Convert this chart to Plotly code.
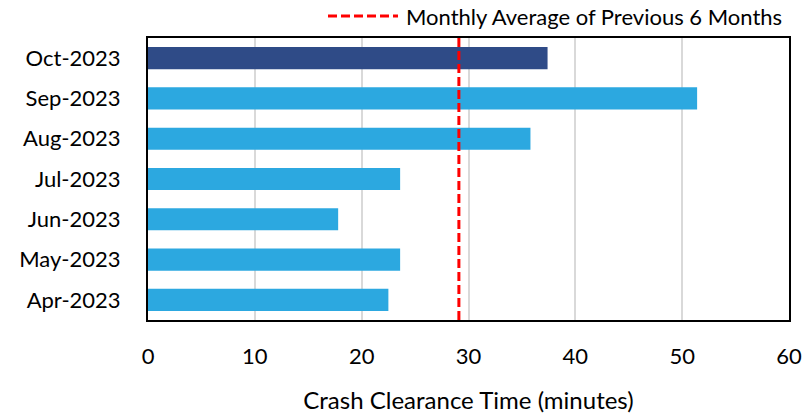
import plotly.graph_objects as go

months = ["Apr-2023", "May-2023", "Jun-2023", "Jul-2023", "Aug-2023", "Sep-2023", "Oct-2023"]
clearance = [22.5, 23.6, 17.8, 23.6, 35.8, 51.4, 37.4]
avg_prev6 = 29.1
x_ticks = [0, 10, 20, 30, 40, 50, 60]
legend_label = "Monthly Average of Previous 6 Months"

light = "#2CA8E0"
dark = "#2F4B87"
red = "#FF0000"
colors = [light] * 6 + [dark]

FONT = "Lato"
FS = 22

W, H = 807, 418
ML, MR, MT, MB = 148, 18, 38, 98
PW, PH = W - ML - MR, H - MT - MB


def px_to_paper_x(px):
    return (px - ML) / PW


def py_to_paper_y(py):
    return (H - MB - py) / PH


fig = go.Figure()
fig.add_trace(go.Bar(
    y=months, x=clearance, orientation="h",
    marker=dict(color=colors, line=dict(width=0)),
    width=0.55, showlegend=False, hoverinfo="x+y",
))

fig.add_shape(
    type="line", x0=avg_prev6, x1=avg_prev6, y0=0, y1=1,
    xref="x", yref="paper",
    line=dict(color=red, width=3, dash="9px,4px"),
)

# manual legend
ly = py_to_paper_y(16)
fig.add_shape(
    type="line", x0=px_to_paper_x(328), x1=px_to_paper_x(398), y0=ly, y1=ly,
    xref="paper", yref="paper",
    line=dict(color=red, width=3, dash="9px,4px"),
)
fig.add_annotation(
    text=legend_label, x=px_to_paper_x(404), y=ly, xref="paper", yref="paper",
    xanchor="left", yanchor="middle", showarrow=False,
    font=dict(family=FONT, size=FS, color="black"),
)

fig.update_layout(
    width=W, height=H,
    margin=dict(l=ML, r=MR, t=MT, b=MB, autoexpand=False),
    paper_bgcolor="white", plot_bgcolor="white",
    font=dict(family=FONT, size=FS, color="#000000"),
    showlegend=False,
    xaxis=dict(
        range=[0, 60], tickvals=x_ticks, showgrid=True, gridcolor="#D9D9D9", gridwidth=1.5,
        showline=True, linecolor="black", linewidth=2, mirror=True,
        ticks="", ticklabelstandoff=16, zeroline=False, automargin=False,
        title=dict(text="Crash Clearance Time (minutes)", standoff=24, font=dict(family=FONT, size=24)),
        tickfont=dict(family=FONT, size=FS),
    ),
    yaxis=dict(
        categoryorder="array", categoryarray=months,
        showline=True, linecolor="black", linewidth=2, mirror=True,
        ticks="", ticklabelstandoff=21, showgrid=False, automargin=False,
        tickfont=dict(family=FONT, size=FS),
    ),
)

fig.write_html("out.html", config={"displayModeBar": False})

# remove the default body margin so the figure sits at the window's top-left corner
with open("out.html", "r", encoding="utf-8") as f:
    html = f.read()
html = html.replace("<body>", '<body style="margin:0;padding:0;overflow:hidden">', 1)
with open("out.html", "w", encoding="utf-8") as f:
    f.write(html)
